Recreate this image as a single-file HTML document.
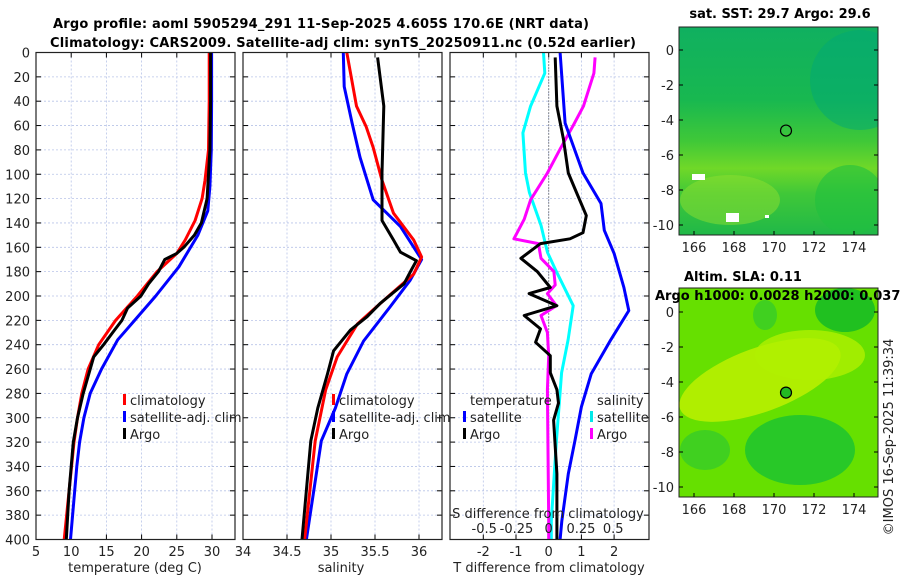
<!DOCTYPE html>
<html><head><meta charset="utf-8">
<style>
html,body{margin:0;padding:0;background:#fff;}
svg{display:block;font-family:"DejaVu Sans","Liberation Sans",sans-serif;}
.t{font-size:13px;fill:#222;}
.b{font-weight:bold;font-size:13px;fill:#000;}
</style></head>
<body>
<svg id="fig" width="900" height="580" viewBox="0 0 900 580" xmlns="http://www.w3.org/2000/svg">
<g id="titles">
<text class="b" x="53" y="28" textLength="536">Argo profile: aoml 5905294_291 11-Sep-2025 4.605S 170.6E (NRT data)</text>
<text class="b" x="50" y="47" textLength="586">Climatology: CARS2009. Satellite-adj clim: synTS_20250911.nc (0.52d earlier)</text>
</g>
<g id="maps"></g>
<g id="p1"></g><g id="p2"></g><g id="p3"></g>
<text class="t" transform="translate(893,437) rotate(-90)" text-anchor="middle">©IMOS 16-Sep-2025 11:39:34</text>
</svg>
<script>
// ---- data ----
const depthTicks=[0,20,40,60,80,100,120,140,160,180,200,220,240,260,280,300,320,340,360,380,400];
const tempTicks=[5,10,15,20,25,30];
const salTicks=[34,34.5,35,35.5,36];
const tdiffTicks=[-2,-1,0,1,2];
const sdiffTicks=[-0.5,-0.25,0,0.25,0.5];
const sdiffLabels=["-0.5","-0.25","0","0.25","0.5"];
// temperature panel
const tClimD=[0,40,80,105,120,138,154,165,180,200,220,240,260,280,300,320,360,400];
const tClimV=[29.6,29.6,29.5,29.0,28.6,27.6,26.2,25.0,22.2,19.4,16.3,13.9,12.4,11.5,10.9,10.4,9.7,9.0];
const tSatD=[0,40,80,110,130,150,176,200,220,236,260,280,300,320,340,360,400];
const tSatV=[29.95,29.95,29.9,29.7,29.4,28.0,25.3,22.0,19.0,16.6,14.3,12.7,11.8,11.2,10.8,10.5,9.9];
const tArgoD=[0,40,80,120,140,150,160,165,170,180,190,200,210,220,230,240,250,260,280,300,320,340,360,380,400];
const tArgoV=[29.8,29.8,29.7,29.3,28.5,27.5,26.0,25.0,23.3,22.4,21.0,19.9,18.0,17.2,15.9,14.6,13.2,12.7,11.7,10.9,10.3,10.0,9.7,9.5,9.3];
// salinity panel
const sClimD=[0,44,61,78,105,132,154,168,182,201,223,250,277,319,400];
const sClimV=[35.18,35.29,35.4,35.48,35.58,35.71,35.94,36.03,35.94,35.64,35.3,35.07,34.94,34.82,34.7];
const sSatD=[0,28,58,86,121,143,170,187,209,237,264,292,319,400];
const sSatV=[35.14,35.15,35.24,35.33,35.48,35.79,36.03,35.9,35.67,35.37,35.18,35.05,34.89,34.72];
const sArgoD=[4,44,99,138,154,164,171,179,190,206,217,228,245,264,292,319,400];
const sArgoV=[35.53,35.6,35.58,35.58,35.71,35.79,35.97,35.91,35.83,35.56,35.41,35.22,35.03,34.96,34.85,34.77,34.67];
// difference panel
const dTSatD=[0,58,99,124,146,165,193,212,236,264,291,319,346,385,400];
const dTSatV=[0.35,0.5,1.05,1.6,1.7,2.0,2.3,2.45,1.9,1.3,1.0,0.8,0.6,0.4,0.35];
const dTArgoD=[4,44,71,99,115,134,148,153,157,169,180,193,198,208,216,227,238,249,263,277,288,302,346,400];
const dTArgoV=[0.2,0.25,0.45,0.6,0.85,1.15,1.05,0.65,-0.25,-0.85,-0.35,0.05,-0.6,0.25,-0.75,-0.25,-0.4,0.05,0.05,0.25,0.3,0.15,0.25,0.25];
const dSSatD=[0,17,44,66,99,115,142,164,180,208,236,263,319,385,400];
const dSSatV=[-0.04,-0.03,-0.14,-0.2,-0.18,-0.15,-0.06,-0.01,0.06,0.19,0.15,0.1,0.06,0.02,0.02];
const dSArgoD=[4,17,44,60,79,99,121,137,153,157,169,180,191,198,208,216,230,249,277,385,400];
const dSArgoV=[0.36,0.35,0.27,0.19,0.09,-0.01,-0.14,-0.19,-0.27,-0.08,-0.06,0.04,0.05,-0.01,0.06,-0.06,-0.01,0,-0.01,0,0];
// map ticks
const lonTicks=[166,168,170,172,174];
const latTicks=[0,-2,-4,-6,-8,-10];
const argoLon=170.6, argoLat=-4.605;

// ---- helpers ----
const NS="http://www.w3.org/2000/svg";
function mk(tag,attrs,parent,text){const e=document.createElementNS(NS,tag);for(const k in attrs)e.setAttribute(k,attrs[k]);if(text!==undefined)e.textContent=text;parent.appendChild(e);return e;}
const TOP=52.5,BOT=539.5;
const yD=d=>TOP+d*(BOT-TOP)/400;

function panel(g,x0,x1,xs,ticks,labels,showY){
  mk('rect',{x:x0,y:TOP,width:x1-x0,height:BOT-TOP,fill:'#fff'},g);
  depthTicks.forEach(d=>{
    const y=yD(d);
    if(d>0&&d<400){const l=mk('line',{x1:x0,x2:x1,y1:y,y2:y,stroke:'#b8c4e8','stroke-width':0.8,'stroke-dasharray':'2,2'},g);
    
    }
    mk('line',{x1:x0,x2:x0+5,y1:y,y2:y,stroke:'#000'},g);
    mk('line',{x1:x1-5,x2:x1,y1:y,y2:y,stroke:'#000'},g);
    if(showY){const t=mk('text',{x:30,y:y+5,'text-anchor':'end',class:'t'},g,String(d));
    
    }
  });
  ticks.forEach((v,i)=>{
    const x=xs(v);
    if(x>x0+1&&x<x1-1){const l=mk('line',{x1:x,x2:x,y1:TOP,y2:BOT,stroke:'#b8c4e8','stroke-width':0.8,'stroke-dasharray':'2,2'},g);
    
    }
    mk('line',{x1:x,x2:x,y1:BOT-5,y2:BOT,stroke:'#000'},g);
    mk('line',{x1:x,x2:x,y1:TOP,y2:TOP+5,stroke:'#000'},g);
    const t=mk('text',{x:x,y:556,'text-anchor':'middle',class:'t'},g,labels[i]);
    
    
  });
}
function frame(g,x0,x1){mk('rect',{x:x0,y:TOP,width:x1-x0,height:BOT-TOP,fill:'none',stroke:'#222','stroke-width':1.2},g);}
function line(g,D,V,xs,color,w,name,clip){
  const p=mk('polyline',{points:D.map((d,i)=>xs(V[i]).toFixed(1)+','+yD(d).toFixed(1)).join(' '),fill:'none',stroke:color,'stroke-width':w,'stroke-linejoin':'round','clip-path':clip},g);
  
  
}
function legend(g,x,y,items){
  items.forEach((it,i)=>{
    if(it.c){mk('rect',{x:x,y:y+i*17-11,width:3,height:11,fill:it.c},g);}
    const t=mk('text',{x:x+(it.c?7:0),y:y+i*17,class:'t'},g,it.t);
    
    
  });
}
const svg=document.getElementById('fig');
const defs=mk('defs',{},svg);
[['c1',36,235],['c2',243,442],['c3',450,649]].forEach(c=>{const cp=mk('clipPath',{id:c[0]},defs);mk('rect',{x:c[1],y:TOP,width:c[2]-c[1],height:BOT-TOP},cp);});

// panel 1 temperature
const xT=v=>36+(v-5)*7.04;
const g1=document.getElementById('p1');


panel(g1,36,235,xT,tempTicks,tempTicks.map(String),true);
line(g1,tSatD,tSatV,xT,'#0000ff',3,'temp-satellite-clim-line','url(#c1)');
line(g1,tClimD,tClimV,xT,'#ff0000',3,'temp-climatology-line','url(#c1)');
line(g1,tArgoD,tArgoV,xT,'#000',3,'temp-argo-line','url(#c1)');
frame(g1,36,235);
const a1=mk('text',{x:135,y:572,'text-anchor':'middle',class:'t'},g1,'temperature (deg C)');


legend(g1,123,405,[{c:'#ff0000',t:'climatology'},{c:'#0000ff',t:'satellite-adj. clim'},{c:'#000',t:'Argo'}]);

// panel 2 salinity
const xS=v=>243+(v-34)*88;
const g2=document.getElementById('p2');


panel(g2,243,442,xS,salTicks,salTicks.map(String),false);
line(g2,sSatD,sSatV,xS,'#0000ff',3,'sal-satellite-clim-line','url(#c2)');
line(g2,sClimD,sClimV,xS,'#ff0000',3,'sal-climatology-line','url(#c2)');
line(g2,sArgoD,sArgoV,xS,'#000',3,'sal-argo-line','url(#c2)');
frame(g2,243,442);
const a2=mk('text',{x:341,y:572,'text-anchor':'middle',class:'t'},g2,'salinity');


legend(g2,332,405,[{c:'#ff0000',t:'climatology'},{c:'#0000ff',t:'satellite-adj. clim'},{c:'#000',t:'Argo'}]);

// panel 3 differences
const xDT=v=>548.7+v*32.7;
const xDS=v=>548.7+v*129;
const g3=document.getElementById('p3');


panel(g3,450,649,xDT,tdiffTicks,tdiffTicks.map(String),false);
mk('line',{x1:xDT(0),x2:xDT(0),y1:TOP,y2:BOT,stroke:'#333','stroke-width':1,'stroke-dasharray':'1,2'},g3);
line(g3,dSSatD,dSSatV,xDS,'#00ffff',3,'sdiff-satellite-line','url(#c3)');
line(g3,dSArgoD,dSArgoV,xDS,'#ff00ff',3,'sdiff-argo-line','url(#c3)');
line(g3,dTSatD,dTSatV,xDT,'#0000ff',3,'tdiff-satellite-line','url(#c3)');
line(g3,dTArgoD,dTArgoV,xDT,'#000',3,'tdiff-argo-line','url(#c3)');
frame(g3,450,649);
const a3=mk('text',{x:549,y:572,'text-anchor':'middle',class:'t'},g3,'T difference from climatology');


const a4=mk('text',{x:548,y:518,'text-anchor':'middle',class:'t'},g3,'S difference from climatology');


sdiffTicks.forEach((v,i)=>{
  const t=mk('text',{x:xDS(v),y:533,'text-anchor':'middle',class:'t'},g3,sdiffLabels[i]);
  
  
});
legend(g3,470,405,[{t:'temperature'}]);
legend(g3,463,422,[{c:'#0000ff',t:'satellite'},{c:'#000',t:'Argo'}]);
legend(g3,597,405,[{t:'salinity'}]);
legend(g3,590,422,[{c:'#00e8e8',t:'satellite'},{c:'#ff00ff',t:'Argo'}]);

// maps
const gm=document.getElementById('maps');
function map(name,x0,x1,y0,y1,lat0y,lat10y,draw,titleLines){
  const g=mk('g',{},gm);
  
  
  const lx=v=>694+(v-166)*20;
  const ly=v=>lat0y+(-v)*(lat10y-lat0y)/10;
  const cid='clip-'+name;
  const cp=mk('clipPath',{id:cid},defs);mk('rect',{x:x0,y:y0,width:x1-x0,height:y1-y0},cp);
  const inner=mk('g',{'clip-path':'url(#'+cid+')'},g);
  draw(inner,x0,x1,y0,y1,lx,ly);
  mk('rect',{x:x0,y:y0,width:x1-x0,height:y1-y0,fill:'none',stroke:'#222','stroke-width':1},g);
  latTicks.forEach(v=>{const y=ly(v);mk('line',{x1:x0,x2:x0+4,y1:y,y2:y,stroke:'#000'},g);mk('line',{x1:x1-4,x2:x1,y1:y,y2:y,stroke:'#000'},g);
    const t=mk('text',{x:674,y:y+5,'text-anchor':'end',class:'t'},g,String(v));
    
    });
  lonTicks.forEach(v=>{const x=lx(v);mk('line',{x1:x,x2:x,y1:y1-4,y2:y1,stroke:'#000'},g);
    const t=mk('text',{x:x,y:y1+17,'text-anchor':'middle',class:'t'},g,String(v));
    
    });
  const c=mk('circle',{cx:lx(argoLon),cy:ly(argoLat),r:5.5,fill:name==='sla-map'?'#22bb22':'none',stroke:'#000','stroke-width':1.2},g);
  
  
  titleLines.forEach(tl=>{const t=mk('text',{x:tl[0],y:tl[1],'text-anchor':tl[2],class:'b'},g,tl[3]);
    
    });
}
map('sst-map',679,878,27,235,50,225,(g,x0,x1,y0,y1)=>{
  const lg=mk('linearGradient',{id:'sstg',x1:0,y1:0,x2:0,y2:1},defs);
  [[0,'#10b060'],[0.35,'#18b850'],[0.55,'#40c838'],[0.68,'#70d828'],[0.8,'#40c838'],[1,'#20b848']].forEach(s=>mk('stop',{offset:s[0],'stop-color':s[1]},lg));
  mk('rect',{x:x0,y:y0,width:x1-x0,height:y1-y0,fill:'url(#sstg)'},g);
  mk('ellipse',{cx:860,cy:80,rx:50,ry:50,fill:'#00a878',opacity:0.5},g);
  mk('ellipse',{cx:730,cy:200,rx:50,ry:25,fill:'#90e030',opacity:0.5},g);
  mk('ellipse',{cx:850,cy:200,rx:35,ry:35,fill:'#20c040',opacity:0.6},g);
  mk('rect',{x:692,y:174,width:13,height:6,fill:'#fff'},g);
  mk('rect',{x:726,y:213,width:13,height:9,fill:'#fff'},g);
  mk('rect',{x:765,y:215,width:4,height:3,fill:'#fff'},g);
},[[780,18,'middle','sat. SST: 29.7 Argo: 29.6']]);
map('sla-map',679,878,288,497,312,487,(g,x0,x1,y0,y1)=>{
  mk('rect',{x:x0,y:y0,width:x1-x0,height:y1-y0,fill:'#66e000'},g);
  mk('ellipse',{cx:760,cy:380,rx:85,ry:32,fill:'#b8f000',opacity:0.9,transform:'rotate(-20 760 380)'},g);
  mk('ellipse',{cx:810,cy:355,rx:55,ry:25,fill:'#b0f000',opacity:0.8},g);
  mk('ellipse',{cx:845,cy:310,rx:30,ry:22,fill:'#20c020'},g);
  mk('ellipse',{cx:800,cy:450,rx:55,ry:35,fill:'#28c828'},g);
  mk('ellipse',{cx:705,cy:450,rx:25,ry:20,fill:'#40d020'},g);
  mk('ellipse',{cx:765,cy:315,rx:12,ry:15,fill:'#40d020'},g);
},[[684,281,'start','Altim. SLA: 0.11'],[655,300,'start','Argo h1000: 0.0028 h2000: 0.037']]);
</script>
</body></html>
